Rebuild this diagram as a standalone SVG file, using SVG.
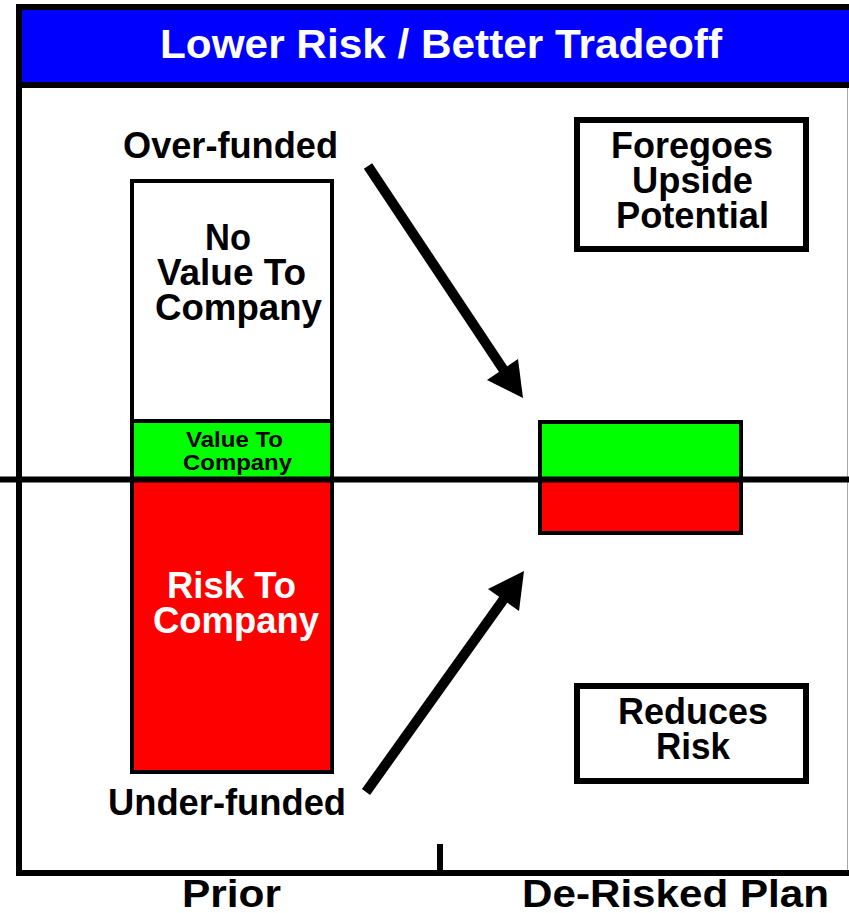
<svg xmlns="http://www.w3.org/2000/svg" width="849" height="913" viewBox="0 0 849 913">
<style>
  text { font-family: "Liberation Sans", Arial, sans-serif; font-weight: bold; text-anchor: middle; }
  .lbl { font-size: 36px; fill: #000; }
  .box { fill: #fff; stroke: #000; stroke-width: 6; }
  .bar { stroke: #000; stroke-width: 4; }
</style>
<rect width="849" height="913" fill="#fff"/>
<g id="frame">
  <rect x="19" y="7" width="840" height="866" fill="none" stroke="#000" stroke-width="6"/>
  <rect x="22" y="10" width="827" height="72" fill="#0000ff"/>
  <line x1="19" y1="85" x2="849" y2="85" stroke="#000" stroke-width="6"/>
  <line x1="847.5" y1="88" x2="847.5" y2="870" stroke="#aaa" stroke-width="1"/>
  <line x1="440" y1="844" x2="440" y2="873" stroke="#000" stroke-width="6"/>
  <text x="441" y="58" font-size="41" fill="#fff" textLength="562" lengthAdjust="spacingAndGlyphs">Lower Risk / Better Tradeoff</text>
</g>
<g id="prior-bar">
  <rect class="bar" x="132" y="181" width="200" height="240" fill="#fff"/>
  <rect class="bar" x="132" y="421" width="200" height="58" fill="#00ff00"/>
  <rect class="bar" x="132" y="479" width="200" height="293" fill="#ff0000"/>
  <text class="lbl" x="228" y="250" textLength="46" lengthAdjust="spacingAndGlyphs">No</text>
  <text class="lbl" x="231.5" y="285" textLength="149" lengthAdjust="spacingAndGlyphs">Value To</text>
  <text class="lbl" x="238.5" y="320" textLength="167" lengthAdjust="spacingAndGlyphs">Company</text>
  <text x="234.5" y="447" font-size="22" textLength="97" lengthAdjust="spacingAndGlyphs">Value To</text>
  <text x="237.5" y="470" font-size="22" textLength="109" lengthAdjust="spacingAndGlyphs">Company</text>
  <text x="231.5" y="598" font-size="36" fill="#fff" textLength="129" lengthAdjust="spacingAndGlyphs">Risk To</text>
  <text x="236" y="633" font-size="36" fill="#fff" textLength="166" lengthAdjust="spacingAndGlyphs">Company</text>
</g>
<g id="derisked-bar">
  <rect class="bar" x="540" y="422" width="201" height="57" fill="#00ff00"/>
  <rect class="bar" x="540" y="479" width="201" height="54" fill="#ff0000"/>
</g>
<line x1="0" y1="479.5" x2="849" y2="479.5" stroke="#000" stroke-width="6"/>
<g id="foregoes">
  <rect class="box" x="577" y="120" width="229" height="129"/>
  <text class="lbl" x="692" y="158" textLength="162" lengthAdjust="spacingAndGlyphs">Foregoes</text>
  <text class="lbl" x="692.5" y="193" textLength="121" lengthAdjust="spacingAndGlyphs">Upside</text>
  <text class="lbl" x="692.5" y="228" textLength="153" lengthAdjust="spacingAndGlyphs">Potential</text>
</g>
<g id="reduces">
  <rect class="box" x="577" y="686" width="229" height="95"/>
  <text class="lbl" x="693" y="724" textLength="150" lengthAdjust="spacingAndGlyphs">Reduces</text>
  <text class="lbl" x="693" y="759" textLength="74" lengthAdjust="spacingAndGlyphs">Risk</text>
</g>
<g id="labels">
  <text class="lbl" x="230.5" y="158" textLength="215" lengthAdjust="spacingAndGlyphs">Over-funded</text>
  <text class="lbl" x="227" y="815" textLength="238" lengthAdjust="spacingAndGlyphs">Under-funded</text>
  <text x="231.5" y="907" font-size="38" textLength="99" lengthAdjust="spacingAndGlyphs">Prior</text>
  <text x="675.5" y="907" font-size="38" textLength="307" lengthAdjust="spacingAndGlyphs">De-Risked Plan</text>
</g>
<g id="connectors">
  <line x1="368" y1="166" x2="515" y2="387" stroke="#000" stroke-width="10"/>
  <path d="M523,398 L487,380 L518,359 Z" fill="#000"/>
  <line x1="366" y1="792" x2="516" y2="582" stroke="#000" stroke-width="10"/>
  <path d="M524,571 L519,611 L488,589 Z" fill="#000"/>
</g>
</svg>
